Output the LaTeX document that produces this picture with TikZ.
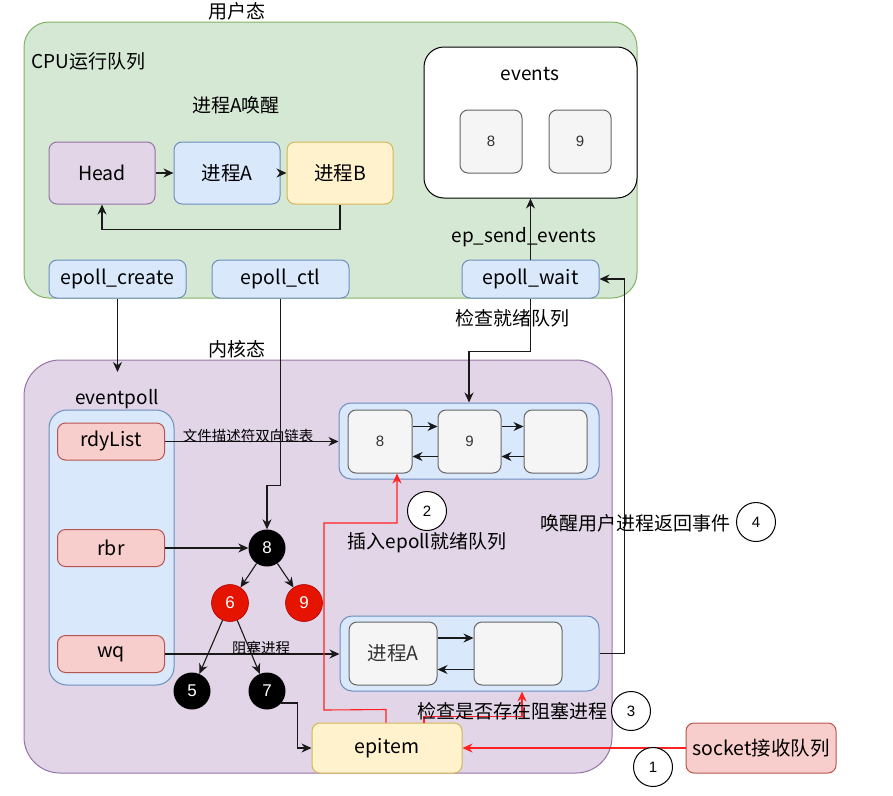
\documentclass[tikz,border=0pt]{standalone}
\usepackage{fontspec}
\setmainfont{Noto Sans CJK SC}
\newfontfamily\numfont{Liberation Sans}
\usetikzlibrary{arrows.meta}

\definecolor{greenfill}{HTML}{D5E8D4}
\definecolor{greendraw}{HTML}{82B366}
\definecolor{purplefill}{HTML}{E1D5E7}
\definecolor{purpledraw}{HTML}{9673A6}
\definecolor{bluefill}{HTML}{DAE8FC}
\definecolor{bluedraw}{HTML}{6C8EBF}
\definecolor{yellowfill}{HTML}{FFF2CC}
\definecolor{yellowdraw}{HTML}{D6B656}
\definecolor{pinkfill}{HTML}{F8CECC}
\definecolor{pinkdraw}{HTML}{B85450}
\definecolor{grayfill}{HTML}{F5F5F5}
\definecolor{graydraw}{HTML}{666666}
\definecolor{treered}{HTML}{E51400}
\definecolor{treereddraw}{HTML}{B20000}
\definecolor{linkred}{HTML}{FF2222}

\tikzset{
  box/.style={draw, rounded corners=8pt, line width=1pt, inner sep=0pt, align=center,
    font=\fontsize{19.5}{22}\selectfont},
  pbox/.style={box, minimum width=106pt, minimum height=62pt},
  callbox/.style={box, fill=bluefill, draw=bluedraw, minimum width=137pt, minimum height=38pt},
  fieldbox/.style={box, fill=pinkfill, draw=pinkdraw, minimum width=107pt, minimum height=37pt},
  cell/.style={box, fill=grayfill, draw=graydraw, minimum height=63pt,
    font=\numfont\fontsize{15}{18}\selectfont, text=black!80},
  holder/.style={box, fill=bluefill, draw=bluedraw, rounded corners=12pt},
  blk/.style={circle, fill=black, minimum size=37pt, inner sep=0pt, text=white,
    font=\numfont\fontsize{17}{20}\selectfont},
  rd/.style={blk, fill=treered, draw=treereddraw, line width=0.6pt},
  stepno/.style={circle, draw, fill=white, line width=1pt, minimum size=39pt, inner sep=0pt,
    font=\numfont\fontsize{15}{18}\selectfont},
  lbl/.style={font=\fontsize{19}{22}\selectfont},
  lblsmall/.style={font=\fontsize{14.5}{17}\selectfont},
  arr/.style={-{Stealth[length=10pt,width=9pt]}, line width=1.1pt, draw=black!90},
  redarr/.style={arr, draw=linkred}
}

\begin{document}
\begin{tikzpicture}[x=1pt, y=-1pt]
\useasboundingbox (0,0) rectangle (893,795);


% User space
\filldraw[fill=greenfill, draw=greendraw, line width=1pt, rounded corners=25pt] (24,22) rectangle (637,298);

\path
(237,11) node[lbl] (userlbl) {用户态}
(28,61) node[lbl, anchor=west] (cpulbl) {CPU运行队列}
(236,105) node[lbl] (wakelbl) {进程A唤醒};

\path
(102,173) node[pbox, fill=purplefill, draw=purpledraw] (head) {Head}
(227,173) node[pbox, fill=bluefill, draw=bluedraw] (proca) {进程A}
(340,173) node[pbox, fill=yellowfill, draw=yellowdraw] (procb) {进程B};

\draw[arr] (head) -- (proca);
\draw[arr] (proca) -- (procb);
\draw[arr] (procb.south) -- ++(0,25) -| (head.south);

\path
(117.5,279) node[callbox] (create) {epoll\_create}
(280.5,279) node[callbox] (ctl) {epoll\_ctl}
(530.5,279) node[callbox] (wait) {epoll\_wait};

% events array
\path
(530.5,122.5) node[box, fill=white, draw=black, rounded corners=20pt,
  minimum width=213pt, minimum height=151pt] (events) {}
(530,74) node[lbl] (eventslbl) {events}
(491,141.5) node[cell, minimum width=62pt] (ev8) {8}
(580,141.5) node[cell, minimum width=62pt] (ev9) {9};

\draw[arr] (wait) -- (events);
\path (524,237) node[lbl] (sendlbl) {ep\_send\_events};


% Kernel space
\filldraw[fill=purplefill, draw=purpledraw, line width=1pt, rounded corners=36pt] (24,360) rectangle (612,773);

\path
(237,349) node[lbl] (kernlbl) {内核态}
(117,399) node[lbl] (eplbl) {eventpoll}
(111.5,547.5) node[holder, rounded corners=18pt, minimum width=125pt, minimum height=275pt] (ep) {}
(111,441.5) node[fieldbox] (rdy) {rdyList}
(111,548) node[fieldbox] (rbr) {rbr}
(111,654) node[fieldbox] (wq) {wq};

\coordinate (eptop) at (117.5,372);
\draw[arr] (create) -- (eptop);

% ready list
\path
(469,441) node[holder, minimum width=260pt, minimum height=76pt] (ready) {}
(380,441.5) node[cell, minimum width=64pt] (r8) {8}
(469.5,441.5) node[cell, minimum width=63pt] (r9) {9}
(555.5,441.5) node[cell, minimum width=63pt] (rend) {};

\draw[arr] ([yshift=15pt]r8.east) -- ([yshift=15pt]r9.west);
\draw[arr] ([yshift=-15pt]r9.west) -- ([yshift=-15pt]r8.east);
\draw[arr] ([yshift=15pt]r9.east) -- ([yshift=15pt]rend.west);
\draw[arr] ([yshift=-15pt]rend.west) -- ([yshift=-15pt]r9.east);

\draw[arr] (rdy.east) -- (rdy.east -| ready.west);
\path (248,436) node[lblsmall] (fdlbl) {文件描述符双向链表};

\draw[arr] (wait.south) -- ++(0,53) -| (ready.north);
\path (512,318) node[lbl] (checklbl) {检查就绪队列};

% red-black tree
\path
(267,548) node[blk] (t8) {8}
(230,603) node[rd] (t6) {6}
(304,603) node[rd] (t9) {9}
(192,691) node[blk] (t5) {5}
(267,691) node[blk] (t7) {7};

\draw[arr] (rbr) -- (t8);
\draw[arr] (ctl.south) -- ++(0,187) -| (t8.north);
\draw[arr] (t8) -- (t6);
\draw[arr] (t8) -- (t9);
\draw[arr] (t6) -- (t5);
\draw[arr] (t6) -- (t7);

% wait queue
\path
(469.5,653.5) node[holder, minimum width=259pt, minimum height=75pt] (proc) {}
(393,653.5) node[cell, minimum width=88pt, font=\fontsize{19.5}{22}\selectfont] (pa) {进程A}
(518,653.5) node[cell, minimum width=88pt] (pb) {};

\draw[arr] ([yshift=15.5pt]pa.east) -- ([yshift=15.5pt]pb.west);
\draw[arr] ([yshift=-16pt]pb.west) -- ([yshift=-16pt]pa.east);

\draw[arr] (wq.east) -- (wq.east -| proc.west);
\path (261,648) node[lblsmall] (blocklbl) {阻塞进程};

\draw[arr] (proc.east) -- ++(25,0) |- (wait.east);

% epitem and socket
\path
(387,748) node[box, fill=yellowfill, draw=yellowdraw, minimum width=150pt, minimum height=50pt] (epitem) {epitem}
(761,748) node[box, fill=pinkfill, draw=pinkdraw, minimum width=150pt, minimum height=50pt] (sock) {socket接收队列};

\draw[arr] (t7.-40) -- ++(16,0) |- (epitem.west);

\draw[redarr] (sock) -- (epitem);
\draw[redarr] ([xshift=-1pt]epitem.north) -- ++(0,-13) -- (324,710) -- (324,523) -| ([xshift=17pt]r8.south);
\draw[redarr] ([xshift=37pt]epitem.north) -- ++(0,-6) -| ([xshift=52.5pt]proc.south);

% steps
\path
(653,767) node[stepno] (s1) {1}
(427,511) node[stepno] (s2) {2}
(631,711) node[stepno] (s3) {3}
(756,522) node[stepno] (s4) {4}
(427,543) node[lbl] (insertlbl) {插入epoll就绪队列}
(512,711) node[lbl] (blockchk) {检查是否存在阻塞进程}
(635,523) node[lbl] (wakeup) {唤醒用户进程返回事件};


\end{tikzpicture}
\end{document}
